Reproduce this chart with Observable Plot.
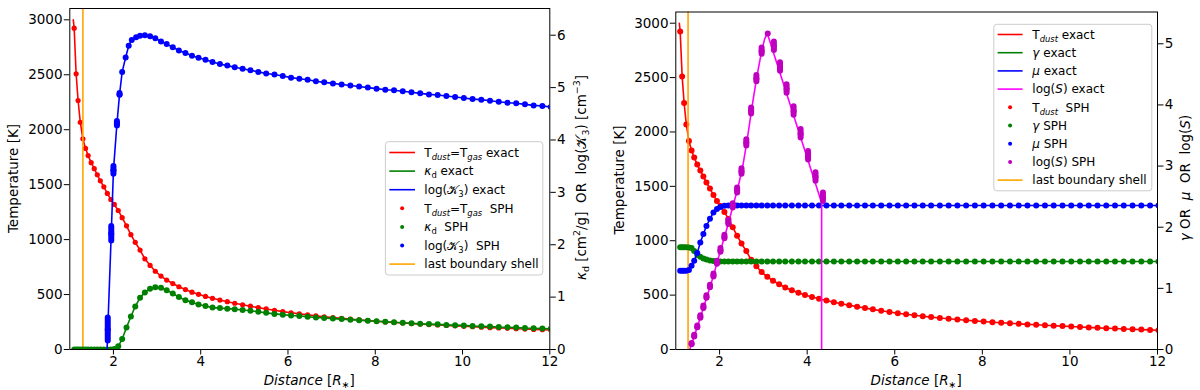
<!DOCTYPE html>
<html><head><meta charset="utf-8">
<script src="https://cdn.jsdelivr.net/npm/d3@7"></script>
<script src="https://cdn.jsdelivr.net/npm/@observablehq/plot@0.6"></script>
<style>
body{margin:0;background:#fff;}
#wrap{display:flex;width:1200px;height:390px;}
#wrap svg{display:block;}
text{white-space:pre;}
</style></head><body><div id="wrap"></div>
<script>
// ---------- data ----------
const X_DOMAIN = [1, 12];
const X_TICKS = [2, 4, 6, 8, 10, 12];
const T_TICKS = [0, 500, 1000, 1500, 2000, 2500, 3000];
const T_TOP = 3103;
const KD_TICKS = [0, 1, 2, 3, 4, 5, 6];
const KD_TOP = 6.51;
const GM_TICKS = [0, 1, 2, 3, 4, 5];
const GM_TOP = 5.52;

const BOUNDARY_LEFT = 1.30;
const BOUNDARY_RIGHT = 1.28;

// SPH shell radii (R*)
const R = [1.10,1.145,1.19,1.24,1.30,1.36,1.42,1.49,1.56,1.63,
 1.70,1.78,1.86,1.94,2.02,2.11,2.20,2.30,2.40,2.50,
 2.61,2.72,2.84,2.96,3.09,3.22,3.36,3.50,3.65,3.80,
 3.95,4.11,4.27,4.44,4.61,4.78,4.96,5.14,5.32,5.50,
 5.69,5.88,6.07,6.26,6.45,6.64,6.83,7.03,7.23,7.43,
 7.63,7.83,8.03,8.23,8.43,8.63,8.83,9.03,9.23,9.43,
 9.63,9.83,10.03,10.23,10.43,10.63,10.83,11.03,11.23,11.43,
 11.63,11.83,12.02];

// Temperature [K]
const T_START = [1.08, 3000];
const T_SPH = [2924,2509,2266,2068,1917,1830,1765,1700,1645,1590,
 1535,1480,1420,1365,1320,1265,1200,1125,1045,975,
 905,825,765,712,668,632,600,571,545,522,
 502,483,466,450,435,421,407,394,381,369,
 357,345,334,324,315,306,298,290,283,276,
 269,263,257,251,246,241,236,231,227,223,
 219,215,211,207,203,199,196,193,189,186,
 183,180,177];

// kappa_d [cm^2/g]
const KAPPA_D = [0,0,0,0,0,0,0,0,0,0,
 0,0,0,0,0.01,0.06,0.20,0.42,0.63,0.82,
 0.99,1.09,1.16,1.19,1.18,1.13,1.07,1.00,0.94,0.90,
 0.86,0.83,0.80,0.79,0.78,0.77,0.755,0.74,0.72,0.70,
 0.68,0.665,0.65,0.64,0.625,0.61,0.60,0.59,0.58,0.57,
 0.56,0.55,0.54,0.53,0.52,0.51,0.50,0.49,0.485,0.48,
 0.47,0.465,0.46,0.45,0.445,0.44,0.43,0.425,0.42,0.41,
 0.405,0.40,0.395];

// log(K3) [cm^-3]
const K3_START = [1.855, 0];
const K3_R = [1.87,1.95,2.00,2.08,2.14,2.20,2.28,2.35,2.42,2.52,2.61,2.72,2.84,2.96,
 3.09,3.22,3.36,3.50,3.65,3.80,3.95,4.11,4.27,4.44,4.61,4.78,4.96,5.14,5.32,5.50,
 5.69,5.88,6.07,6.26,6.45,6.64,6.83,7.03,7.23,7.43,7.63,7.83,8.03,8.23,8.43,8.63,
 8.83,9.03,9.23,9.43,9.63,9.83,10.03,10.23,10.43,10.63,10.83,11.03,11.23,11.43,
 11.63,11.83,12.02];
const K3_V = [0.38,2.21,3.42,4.31,4.87,5.30,5.575,5.80,5.91,5.96,5.99,6.00,5.98,5.94,
 5.88,5.83,5.77,5.71,5.66,5.61,5.57,5.53,5.49,5.45,5.42,5.39,5.36,5.33,5.30,5.27,
 5.25,5.22,5.19,5.17,5.15,5.12,5.10,5.08,5.06,5.04,5.02,5.00,4.98,4.96,4.95,4.93,
 4.91,4.89,4.87,4.86,4.84,4.82,4.80,4.78,4.77,4.75,4.73,4.71,4.70,4.68,
 4.66,4.65,4.63];
const K3_SPREAD = [0.22,0.14,0.075,0.045,0.015];

// gamma and mu on SPH shells
const GAMMA = [1.674,1.674,1.674,1.674,1.67,1.66,1.61,1.545,1.515,1.49,
 1.47,1.457,1.447,1.443,1.44,1.44,1.44,1.44,1.44,1.44,
 1.44,1.44,1.44,1.44,1.44,1.44,1.44,1.44,1.44,1.44,
 1.44,1.44,1.44,1.44,1.44,1.44,1.44,1.44,1.44,1.44,
 1.44,1.44,1.44,1.44,1.44,1.44,1.44,1.44,1.44,1.44,
 1.44,1.44,1.44,1.44,1.44,1.44,1.44,1.44,1.44,1.44,
 1.44,1.44,1.44,1.44,1.44,1.44,1.44,1.44,1.44,1.44,
 1.44,1.44,1.44];
const MU = [1.29,1.29,1.29,1.29,1.30,1.37,1.45,1.58,1.75,1.89,
 2.02,2.14,2.24,2.30,2.33,2.35,2.356,2.356,2.356,2.356,
 2.356,2.356,2.356,2.356,2.356,2.356,2.356,2.356,2.356,2.356,
 2.356,2.356,2.356,2.356,2.356,2.356,2.356,2.356,2.356,2.356,
 2.356,2.356,2.356,2.356,2.356,2.356,2.356,2.356,2.356,2.356,
 2.356,2.356,2.356,2.356,2.356,2.356,2.356,2.356,2.356,2.356,
 2.356,2.356,2.356,2.356,2.356,2.356,2.356,2.356,2.356,2.356,
 2.356,2.356,2.356];

// log(S)
const S_R = [1.36,1.42,1.49,1.56,1.63,1.70,1.78,1.86,1.94,2.02,2.11,2.20,2.30,2.40,
 2.50,2.61,2.72,2.84,2.96,3.10,3.24,3.38,3.53,3.69,3.85,4.02,4.19,4.36];
const S_V = [0.09,0.22,0.37,0.53,0.69,0.86,1.03,1.21,1.42,1.62,1.84,2.08,2.35,2.60,
 2.91,3.38,3.90,4.43,4.88,5.17,4.96,4.62,4.26,3.90,3.53,3.17,2.82,2.49];
const S_SPREAD = [0.01,0.015,0.015,0.02,0.02,0.02,0.02,0.025,0.025,0.03,0.03,0.035,0.035,0.04,
 0.045,0.05,0.05,0.05,0.05,0,0.07,0.07,0.07,0.07,0.07,0.07,0.07,0.07];
const S_LINE_R = [1.32,1.55,1.70,1.85,2.00,2.10,2.20,2.30,2.42,2.53,2.63,2.73,2.84,2.96,3.03,3.09,4.33,4.33];
const S_LINE_V = [0,0.50,0.84,1.18,1.57,1.81,2.06,2.33,2.65,3.00,3.43,3.92,4.42,4.88,5.08,5.17,2.40,0];

// ---------- helpers ----------
const FONT = "DejaVu Sans";
function rich(t, parts, size) {
  let shift = 0;
  for (const p of parts) {
    const sh = p.sub ? size * 0.25 : p.sup ? -size * 0.4 : 0;
    const ts = t.append("tspan").text(p.t);
    if (sh !== shift) ts.attr("dy", sh - shift);
    shift = sh;
    if (p.sub || p.sup) ts.attr("font-size", size * 0.7);
    if (p.i) ts.attr("font-style", "italic");
  }
}
function label(svg, x, y, parts, size, rot) {
  const g = d3.select(svg).append("g").attr("transform", `translate(${x},${y})` + (rot ? " rotate(-90)" : ""));
  const t = g.append("text").attr("x", 0).attr("y", size * 0.35).attr("text-anchor", "middle")
    .attr("font-family", FONT).attr("font-size", size).attr("fill", "black");
  rich(t, parts, size);
}
function legend(svg, box, rows) {
  const g = d3.select(svg).append("g");
  g.append("rect").attr("x", box.x).attr("y", box.y).attr("width", box.w).attr("height", box.h)
    .attr("rx", 3).attr("fill", "white").attr("fill-opacity", 0.8).attr("stroke", "#cccccc").attr("stroke-width", 1);
  rows.forEach((row, i) => {
    const y = box.y0 + i * box.dy;
    if (row.kind === "line") {
      g.append("line").attr("x1", box.hx1).attr("x2", box.hx2).attr("y1", y).attr("y2", y)
        .attr("stroke", row.color).attr("stroke-width", 1.6);
    } else {
      g.append("circle").attr("cx", (box.hx1 + box.hx2) / 2).attr("cy", y).attr("r", 2).attr("fill", row.color);
    }
    const t = g.append("text").attr("x", box.tx).attr("y", y + 4.2).attr("text-anchor", "start")
      .attr("font-family", FONT).attr("font-size", 12).attr("fill", "black");
    rich(t, row.parts, 12);
  });
}
const style = {fontFamily: FONT, fontSize: "13.5px", color: "black", background: "white"};
const LW = 1.6, DR = 3.0, DRT = 2.6, TFS = 13.5, TS = 5.5, TP = 1.8;

// ---------- left panel ----------
const kL = T_TOP / KD_TOP;
const sphL = R.map((r, i) => ({r, T: T_SPH[i], kd: KAPPA_D[i] * kL}));
const tLine = [{r: T_START[0], T: T_START[1]}, ...sphL];
const kdLine = [{r: T_START[0], kd: 0}, ...sphL];
const k3 = K3_R.map((r, i) => {
  const s = K3_SPREAD[i] || 0;
  return {r, v: K3_V[i] * kL, lo: (K3_V[i] - s) * kL, hi: (K3_V[i] + s) * kL, s};
});
const k3Line = [{r: K3_START[0], v: K3_START[1] * kL}, ...k3];

const left = Plot.plot({
  width: 600, height: 390, marginLeft: 69.3, marginRight: 50.7, marginTop: 8, marginBottom: 41,
  x: {domain: X_DOMAIN}, y: {domain: [0, T_TOP]}, style,
  marks: [
    Plot.line(tLine, {x: "r", y: "T", stroke: "#ff0000", strokeWidth: LW, clip: true}),
    Plot.dot(sphL, {x: "r", y: "T", r: DRT, fill: "#ff0000", clip: true}),
    Plot.ruleX([BOUNDARY_LEFT], {stroke: "#ffa500", strokeWidth: LW}),
    Plot.line(kdLine, {x: "r", y: "kd", stroke: "#008000", strokeWidth: LW, clip: true}),
    Plot.dot(sphL, {x: "r", y: "kd", r: DR, fill: "#008000", clip: true}),
    Plot.line(k3Line, {x: "r", y: "v", stroke: "#0000ff", strokeWidth: LW, clip: true}),
    Plot.ruleX(k3.filter(d => d.s > 0), {x: "r", y1: "lo", y2: "hi", stroke: "#0000ff", strokeWidth: 2 * DR, strokeLinecap: "round", clip: true}),
    Plot.dot(k3, {x: "r", y: "v", r: DR, fill: "#0000ff", clip: true}),
    Plot.frame({stroke: "black", strokeWidth: 1}),
    Plot.axisX({ticks: X_TICKS, tickSize: TS, tickPadding: TP, label: null, fontSize: TFS, tickFormat: d => String(d)}),
    Plot.axisY({ticks: T_TICKS, tickSize: TS, tickPadding: TP, label: null, fontSize: TFS, tickFormat: d => String(d)}),
    Plot.axisY(KD_TICKS.map(v => v * kL), {anchor: "right", tickSize: TS, tickPadding: TP, label: null, fontSize: TFS, tickFormat: d => String(Math.round(d / kL))})
  ]
});

// ---------- right panel ----------
const kR = T_TOP / GM_TOP;
const sphR = R.map((r, i) => ({r, T: T_SPH[i], g: GAMMA[i] * kR, m: MU[i] * kR}));
const tLineR = [{r: T_START[0], T: T_START[1]}, ...sphR];
const gmLine = [{r: T_START[0], g: GAMMA[0] * kR, m: MU[0] * kR}, ...sphR];
const sDots = S_R.map((r, i) => ({r, v: S_V[i] * kR, lo: (S_V[i] - S_SPREAD[i]) * kR, hi: (S_V[i] + S_SPREAD[i]) * kR, s: S_SPREAD[i]}));
const sLine = S_LINE_R.map((r, i) => ({r, v: S_LINE_V[i] * kR}));

const right = Plot.plot({
  width: 600, height: 390, marginLeft: 75.3, marginRight: 43, marginTop: 11.5, marginBottom: 41,
  x: {domain: X_DOMAIN}, y: {domain: [0, T_TOP]}, style,
  marks: [
    Plot.line(tLineR, {x: "r", y: "T", stroke: "#ff0000", strokeWidth: LW, clip: true}),
    Plot.dot(sphR, {x: "r", y: "T", r: DR, fill: "#ff0000", clip: true}),
    Plot.ruleX([BOUNDARY_RIGHT], {stroke: "#ffa500", strokeWidth: LW}),
    Plot.line(gmLine, {x: "r", y: "g", stroke: "#008000", strokeWidth: LW, clip: true}),
    Plot.dot(sphR, {x: "r", y: "g", r: DR, fill: "#008000", clip: true}),
    Plot.line(gmLine, {x: "r", y: "m", stroke: "#0000ff", strokeWidth: LW, clip: true}),
    Plot.dot(sphR, {x: "r", y: "m", r: DR, fill: "#0000ff", clip: true}),
    Plot.line(sLine, {x: "r", y: "v", stroke: "#ff00ff", strokeWidth: LW, clip: true}),
    Plot.ruleX(sDots.filter(d => d.s > 0), {x: "r", y1: "lo", y2: "hi", stroke: "#bf00bf", strokeWidth: 2 * DR, strokeLinecap: "round", clip: true}),
    Plot.dot(sDots, {x: "r", y: "v", r: DR, fill: "#bf00bf", clip: true}),
    Plot.frame({stroke: "black", strokeWidth: 1}),
    Plot.axisX({ticks: X_TICKS, tickSize: TS, tickPadding: TP, label: null, fontSize: TFS, tickFormat: d => String(d)}),
    Plot.axisY({ticks: T_TICKS, tickSize: TS, tickPadding: TP, label: null, fontSize: TFS, tickFormat: d => String(d)}),
    Plot.axisY(GM_TICKS.map(v => v * kR), {anchor: "right", tickSize: TS, tickPadding: TP, label: null, fontSize: TFS, tickFormat: d => String(Math.round(d / kR))})
  ]
});

const wrap = document.getElementById("wrap");
wrap.appendChild(left);
wrap.appendChild(right);

// ---------- labels ----------
const xLab = [{t: "Distance", i: 1}, {t: " ["}, {t: "R", i: 1}, {t: "∗", sub: 1}, {t: "]"}];
label(left, 309.3, 380, xLab, 13.5);
label(right, 316.2, 380, xLab, 13.5);
label(left, 13.5, 178.5, [{t: "Temperature [K]"}], 13.5, true);
label(right, 19.5, 180, [{t: "Temperature [K]"}], 13.5, true);
label(left, 581, 177.5, [{t: "κ", i: 1}, {t: "d", sub: 1}, {t: " [cm"}, {t: "2", sup: 1}, {t: "/g]  OR  log("}, {t: "𝒦"}, {t: "3", sub: 1}, {t: ") [cm"}, {t: "−3", sup: 1}, {t: "]"}], 13.5, true);
label(right, 585, 178, [{t: "γ", i: 1}, {t: " OR  "}, {t: "μ", i: 1}, {t: "  OR  log("}, {t: "S", i: 1}, {t: ")"}], 13.5, true);

// ---------- legends ----------
const TD = [{t: "T"}, {t: "dust", sub: 1, i: 1}];
const TG = [{t: "=T"}, {t: "gas", sub: 1, i: 1}];
const KD = [{t: "κ", i: 1}, {t: "d", sub: 1}];
const K3 = [{t: "log("}, {t: "𝒦"}, {t: "3", sub: 1}, {t: ")"}];
legend(left, {x: 385.4, y: 141.7, w: 157.4, h: 133.3, y0: 152.5, dy: 18.6, hx1: 389.3, hx2: 415, tx: 424.3}, [
  {kind: "line", color: "#ff0000", parts: [...TD, ...TG, {t: " exact"}]},
  {kind: "line", color: "#008000", parts: [...KD, {t: " exact"}]},
  {kind: "line", color: "#0000ff", parts: [...K3, {t: " exact"}]},
  {kind: "dot", color: "#ff0000", parts: [...TD, ...TG, {t: "  SPH"}]},
  {kind: "dot", color: "#008000", parts: [...KD, {t: "  SPH"}]},
  {kind: "dot", color: "#0000ff", parts: [...K3, {t: "  SPH"}]},
  {kind: "line", color: "#ffa500", parts: [{t: "last boundary shell"}]}
]);
const LS = [{t: "log("}, {t: "S", i: 1}, {t: ")"}];
legend(right, {x: 393.8, y: 24.3, w: 158, h: 166.5, y0: 34.5, dy: 18.2, hx1: 397.6, hx2: 422.6, tx: 432.3}, [
  {kind: "line", color: "#ff0000", parts: [...TD, {t: " exact"}]},
  {kind: "line", color: "#008000", parts: [{t: "γ", i: 1}, {t: " exact"}]},
  {kind: "line", color: "#0000ff", parts: [{t: "μ", i: 1}, {t: " exact"}]},
  {kind: "line", color: "#ff00ff", parts: [...LS, {t: " exact"}]},
  {kind: "dot", color: "#ff0000", parts: [...TD, {t: "  SPH"}]},
  {kind: "dot", color: "#008000", parts: [{t: "γ", i: 1}, {t: " SPH"}]},
  {kind: "dot", color: "#0000ff", parts: [{t: "μ", i: 1}, {t: " SPH"}]},
  {kind: "dot", color: "#bf00bf", parts: [...LS, {t: " SPH"}]},
  {kind: "line", color: "#ffa500", parts: [{t: "last boundary shell"}]}
]);
</script></body></html>
